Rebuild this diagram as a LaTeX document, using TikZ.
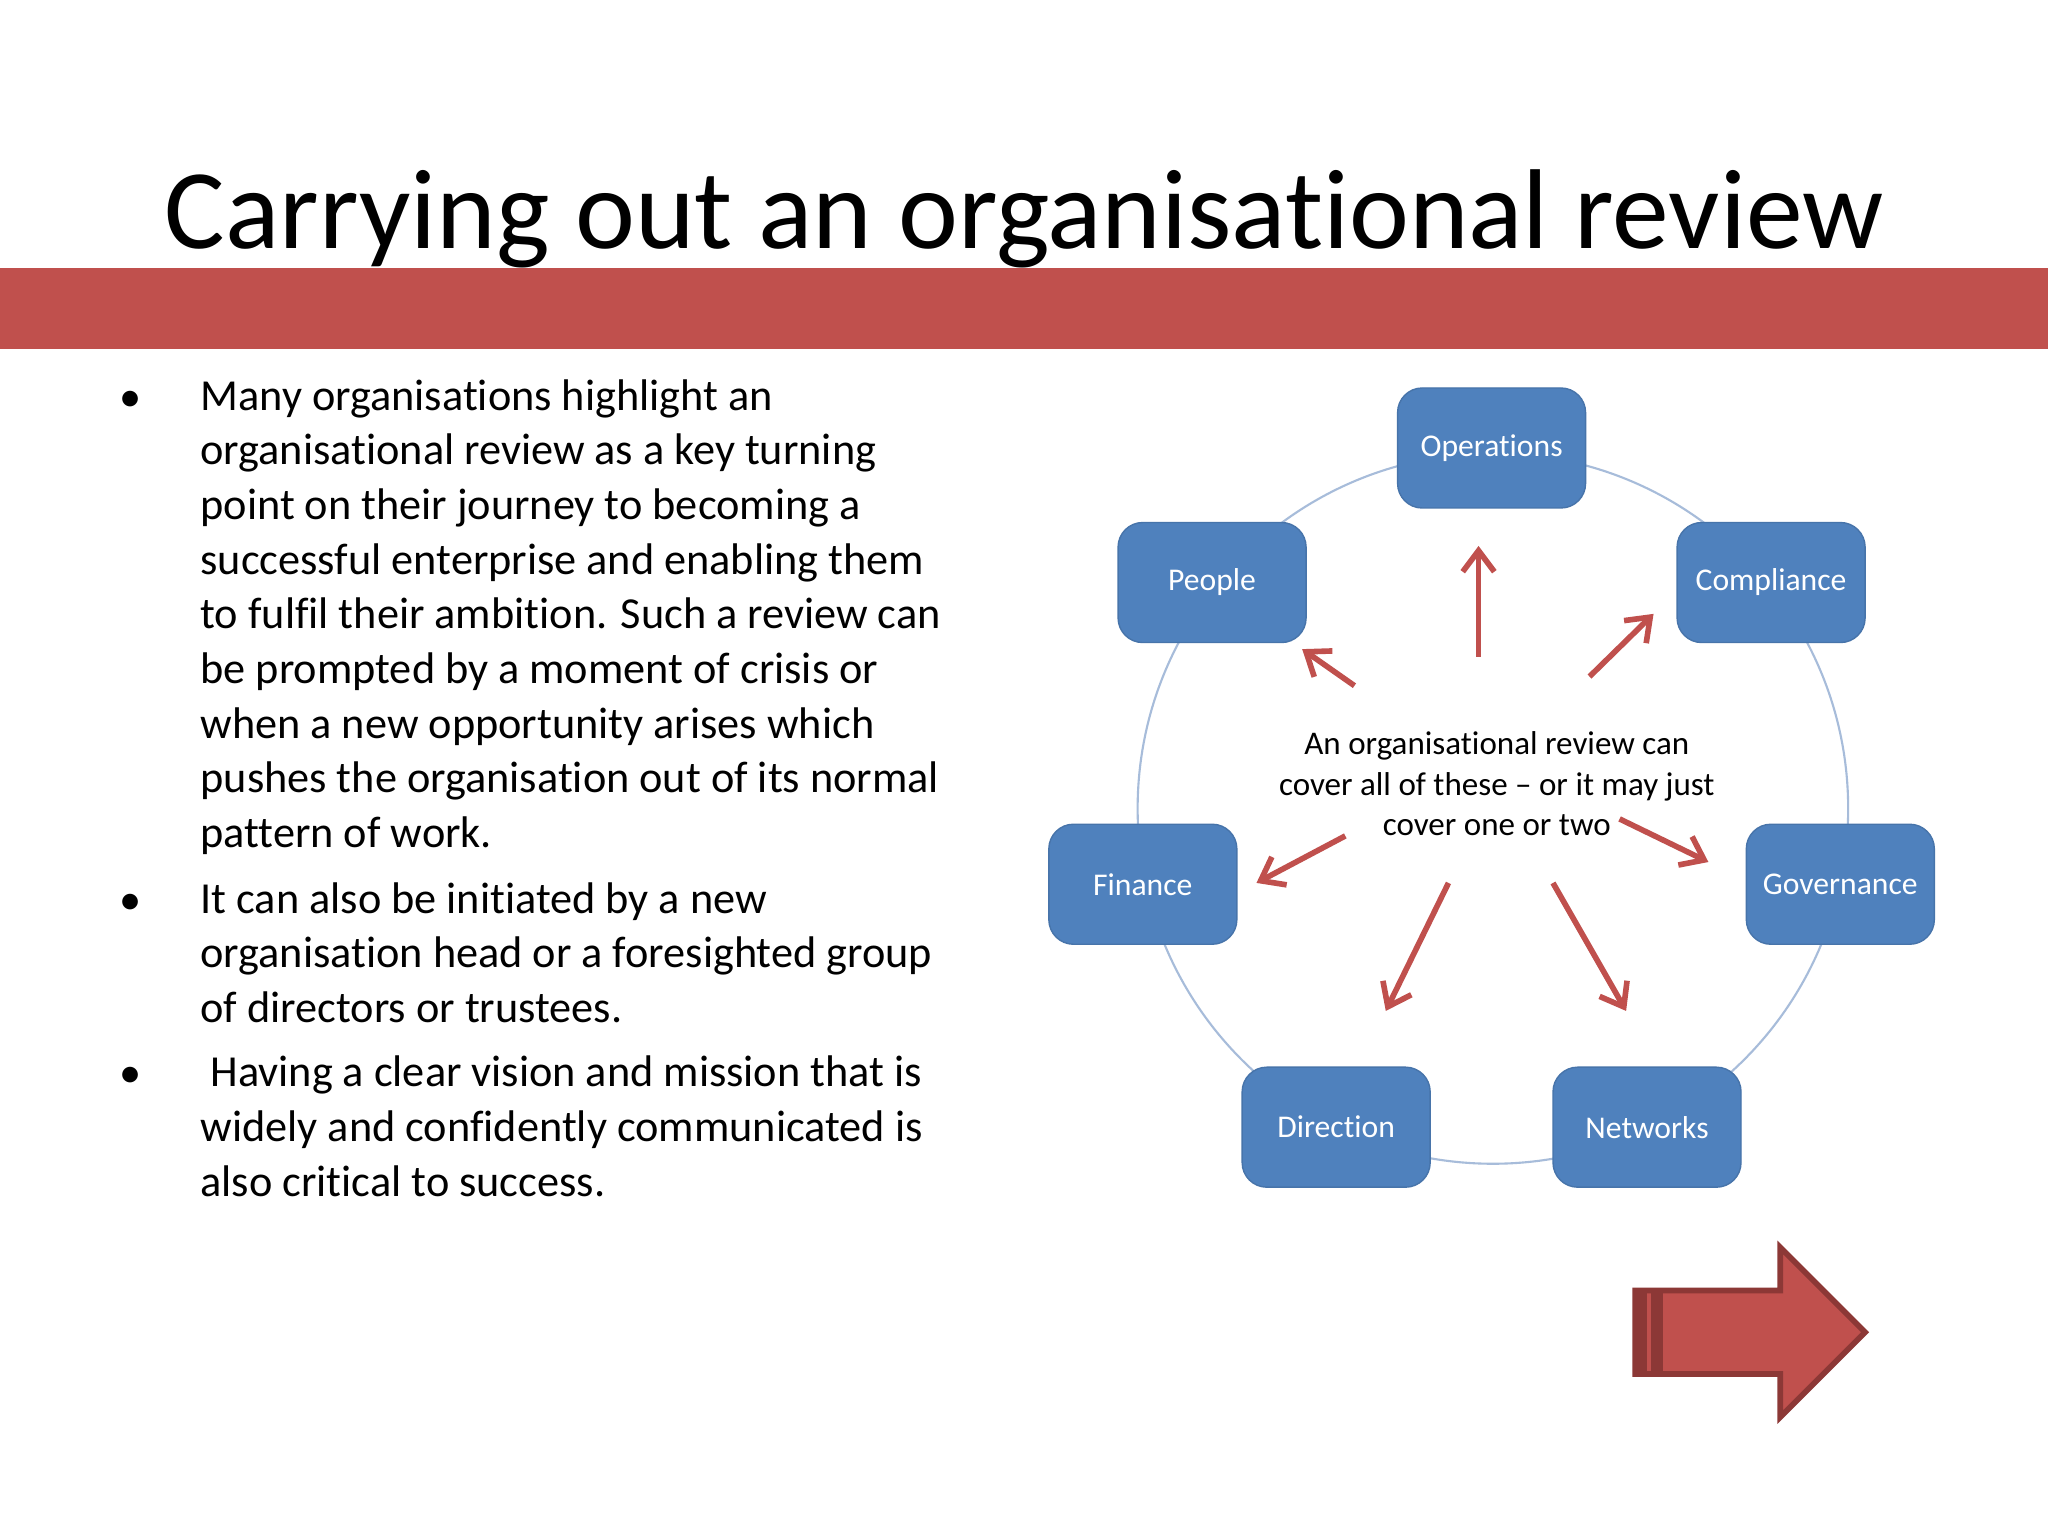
\documentclass[tikz,border=0pt]{standalone}
\usepackage{fontspec}
\setmainfont{Carlito}[Ligatures=NoCommon]
\usetikzlibrary{arrows.meta}
\definecolor{band}{HTML}{C0504D}
\definecolor{dband}{HTML}{8C3836}
\definecolor{bbox}{HTML}{4F81BD}
\definecolor{ring}{HTML}{A7BCDA}
\tikzset{
  topic/.style={draw=bbox!90!black,line width=0.4pt,fill=bbox,rounded corners=7pt,minimum width=1.88cm,minimum height=1.2cm,text=white,font=\fontsize{9}{11}\selectfont},
  rarrow/.style={draw=band,line width=1.6pt,-{Straight Barb[length=6pt,width=9pt,line width=1.6pt]}},
  para/.style={anchor=north west,align=left,inner sep=0pt,font=\fontsize{12.6}{15.55}\selectfont},
  bul/.style={anchor=base,inner sep=0pt,font=\fontsize{12.6}{15}\selectfont}
}
\begin{document}
\begin{tikzpicture}[x=0.013061cm,y=-0.013061cm]
\useasboundingbox (0,0) rectangle (1568,1176);
\fill[white] (0,0) rectangle (1568,1176);
\node[anchor=base,font=\fontsize{32.3}{36}\selectfont] (title) at (784,190) {Carrying out an organisational review};
\fill[band] (0,205) rectangle (1568,267);
% bullets
\node[para] (p1) at (153,290) {Many organisations highlight an\\organisational review as a key turning\\point on their journey to becoming a\\successful enterprise and enabling them\\to fulfil their ambition. Such a review can\\be prompted by a moment of crisis or\\when a new opportunity arises which\\pushes the organisation out of its normal\\pattern of work.};
\node[para] (p2) at (153,675) {It can also be initiated by a new\\organisation head or a foresighted group\\of directors or trustees.};
\node[para] (p3) at (153,808) {\ Having a clear vision and mission that is\\widely and confidently communicated is\\also critical to success.};
\node[bul] (b1) at (100,315) {•};
\node[bul] (b2) at (100,700) {•};
\node[bul] (b3) at (100,833) {•};
% ring
\draw[ring,line width=0.6pt] (1143,619) circle (272);
\node[topic] (ops) at (1142,343) {Operations};
\node[topic] (peo) at (928,446) {People};
\node[topic] (com) at (1356,446) {Compliance};
\node[topic] (fin) at (875,677) {Finance};
\node[topic] (gov) at (1409,677) {Governance};
\node[topic] (dir) at (1023,863) {Direction};
\node[topic] (net) at (1261,863) {Networks};
\node[align=center,font=\fontsize{9.4}{11.5}\selectfont] (ctr) at (1146,600) {An organisational review can\\cover all of these -- or it may just\\cover one or two};
\coordinate (u1) at (1132,503); \coordinate (u2) at (1132,418);
\coordinate (ne1) at (1217,518); \coordinate (ne2) at (1266,470);
\coordinate (nw1) at (1037,525); \coordinate (nw2) at (997,497);
\coordinate (w1) at (1030,640); \coordinate (w2) at (962,676);
\coordinate (e1) at (1240,627); \coordinate (e2) at (1308,660);
\coordinate (sw1) at (1109,676); \coordinate (sw2) at (1061,774);
\coordinate (se1) at (1189,676); \coordinate (se2) at (1245,774);
\draw[rarrow] (u1) -- (u2);
\draw[rarrow] (ne1) -- (ne2);
\draw[rarrow] (nw1) -- (nw2);
\draw[rarrow] (w1) -- (w2);
\draw[rarrow] (e1) -- (e2);
\draw[rarrow] (sw1) -- (sw2);
\draw[rarrow] (se1) -- (se2);
% big arrow
\draw[fill=band,draw=dband,line width=1.6pt,line join=miter] (1252,988) -- (1363,988) -- (1363,955) -- (1428,1020) -- (1363,1085) -- (1363,1052) -- (1252,1052) -- cycle;
\fill[dband] (1252,988) rectangle (1261,1052);
\fill[dband] (1264,988) rectangle (1273,1052);
\end{tikzpicture}
\end{document}
